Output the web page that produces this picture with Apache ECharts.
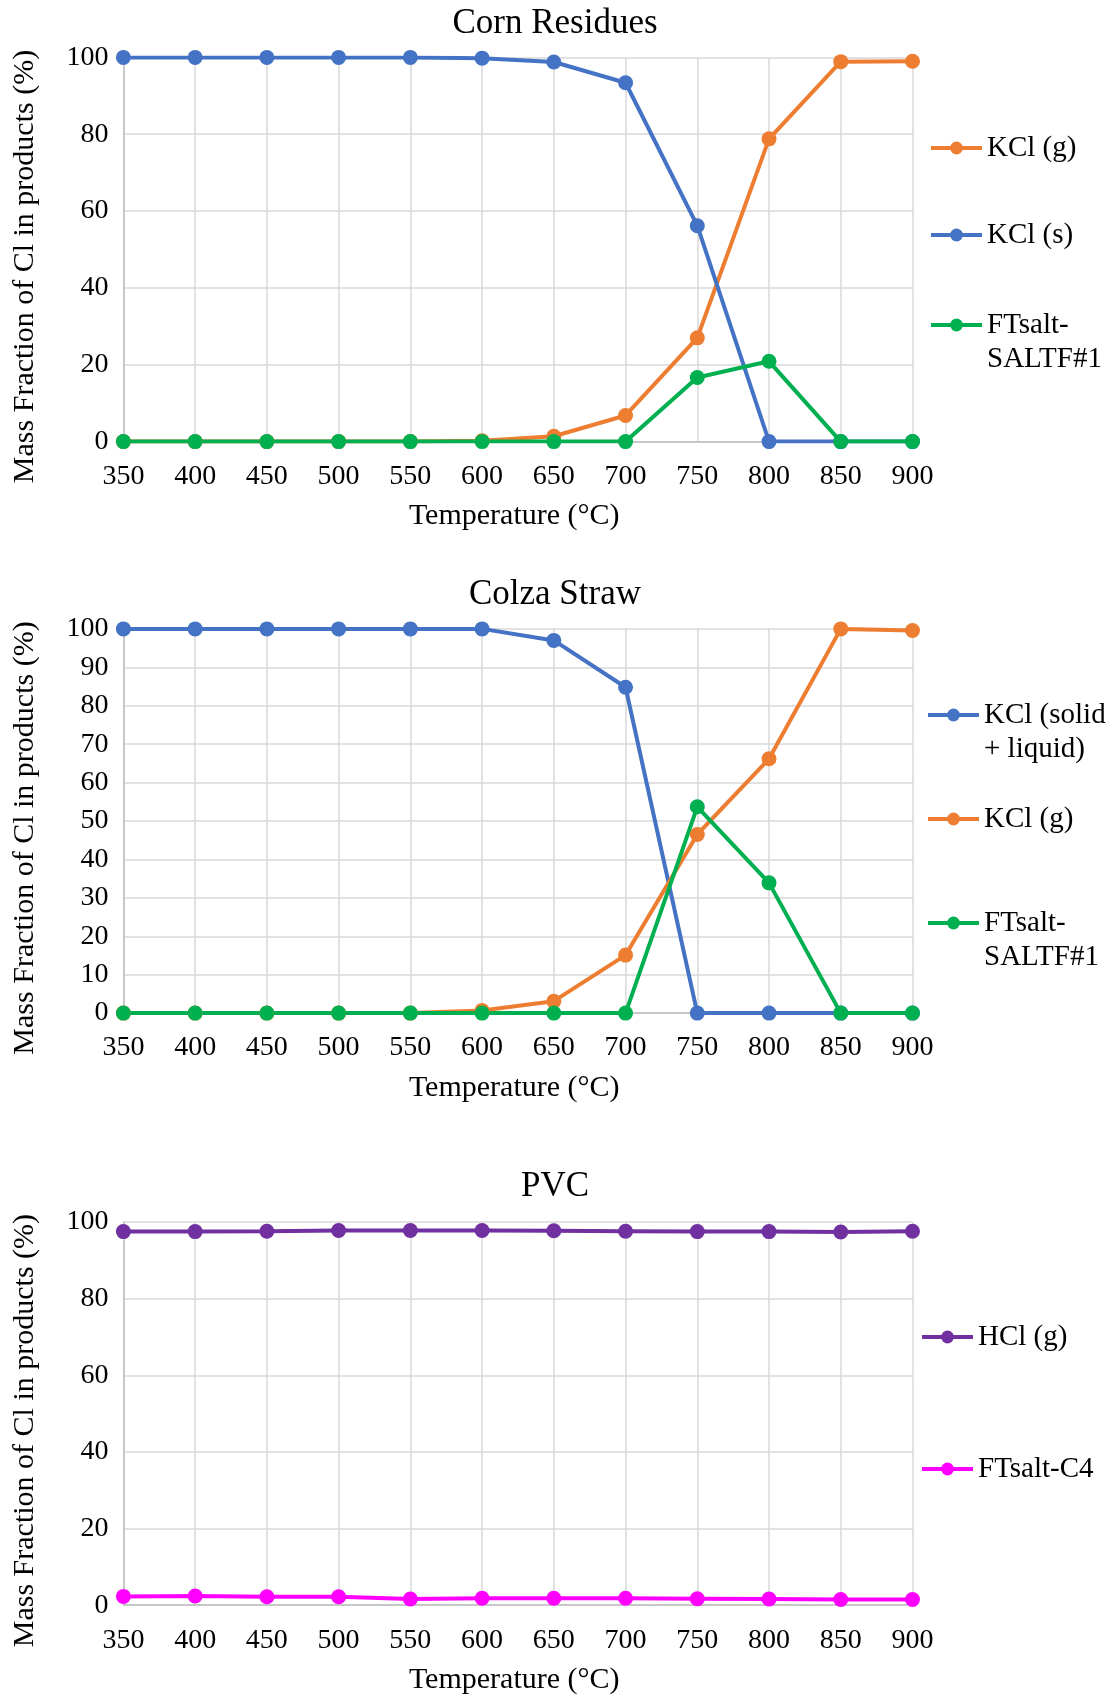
<!DOCTYPE html>
<html><head><meta charset="utf-8">
<script src="https://cdn.jsdelivr.net/npm/echarts@6/dist/echarts.min.js"></script>
<style>html,body{margin:0;padding:0;background:#fff}#c{width:1117px;height:1697px}</style>
</head><body><div id="c"></div>
<script>
// ---- data ----
const temperatures = [350, 400, 450, 500, 550, 600, 650, 700, 750, 800, 850, 900];

const cornTitle = 'Corn Residues';
const cornKClG = [0, 0, 0, 0, 0, 0.2, 1.4, 6.8, 27.0, 78.8, 98.9, 99.0];
const cornKClS = [100, 100, 100, 100, 100, 99.8, 98.8, 93.4, 56.2, 0, 0, 0];
const cornFTsalt = [0, 0, 0, 0, 0, 0, 0, 0, 16.7, 20.9, 0, 0];

const colzaTitle = 'Colza Straw';
const colzaKClSL = [100, 100, 100, 100, 100, 100, 97.0, 84.8, 0, 0, 0, 0];
const colzaKClG = [0, 0, 0, 0, 0, 0.7, 3.1, 15.1, 46.5, 66.2, 100, 99.6];
const colzaFTsalt = [0, 0, 0, 0, 0, 0, 0, 0, 53.7, 33.9, 0, 0];

const pvcTitle = 'PVC';
const pvcHCl = [97.5, 97.5, 97.6, 97.8, 97.8, 97.8, 97.7, 97.6, 97.5, 97.5, 97.4, 97.6];
const pvcFTsaltC4 = [2.3, 2.4, 2.2, 2.2, 1.6, 1.8, 1.8, 1.8, 1.7, 1.6, 1.5, 1.5];

const xName = 'Temperature (°C)';
const yName = 'Mass Fraction of Cl in products (%)';

// ---- styling / layout ----
const FONT = "'Liberation Serif', 'Times New Roman', serif";
const C_ORANGE = '#ED7D31', C_BLUE = '#4472C4', C_GREEN = '#00B050', C_PURPLE = '#7030A0', C_MAGENTA = '#FF00FF';

const panels = [
  { title: cornTitle, top: 57.4, height: 384.2, titleTop: 1, yInterval: 20,
    series: [
      { name: 'KCl (g)', data: cornKClG, color: C_ORANGE },
      { name: 'KCl (s)', data: cornKClS, color: C_BLUE },
      { name: 'FTsalt-\nSALTF#1', data: cornFTsalt, color: C_GREEN }
    ],
    legends: [
      { name: 'KCl (g)', cy: 148, lines: 1 },
      { name: 'KCl (s)', cy: 235, lines: 1 },
      { name: 'FTsalt-\nSALTF#1', cy: 325, lines: 2 }
    ], legendLeft: 929 },
  { title: colzaTitle, top: 628.9, height: 384.2, titleTop: 572, yInterval: 10,
    series: [
      { name: 'KCl (solid\n+ liquid)', data: colzaKClSL, color: C_BLUE },
      { name: 'KCl (g) ', data: colzaKClG, color: C_ORANGE },
      { name: 'FTsalt-\nSALTF#1 ', data: colzaFTsalt, color: C_GREEN }
    ],
    legends: [
      { name: 'KCl (solid\n+ liquid)', cy: 715, lines: 2 },
      { name: 'KCl (g) ', cy: 819, lines: 1 },
      { name: 'FTsalt-\nSALTF#1 ', cy: 923, lines: 2 }
    ], legendLeft: 926 },
  { title: pvcTitle, top: 1222, height: 383.2, titleTop: 1164, yInterval: 20,
    series: [
      { name: 'HCl (g)', data: pvcHCl, color: C_PURPLE },
      { name: 'FTsalt-C4', data: pvcFTsaltC4, color: C_MAGENTA }
    ],
    legends: [
      { name: 'HCl (g)', cy: 1337, lines: 1 },
      { name: 'FTsalt-C4', cy: 1469, lines: 1 }
    ], legendLeft: 920 }
];

const LH = 34;
const option = {
  animation: false,
  backgroundColor: '#fff',
  textStyle: { fontFamily: FONT, color: '#000' },
  title: [], grid: [], xAxis: [], yAxis: [], series: [], legend: [], graphic: []
};

panels.forEach((p, gi) => {
  option.title.push({ text: p.title, left: 550, textAlign: 'center', top: p.titleTop,
    textStyle: { fontFamily: FONT, fontSize: 35, fontWeight: 'normal', color: '#000' } });
  option.grid.push({ left: 123.4, width: 789.1, top: p.top, height: p.height });
  option.xAxis.push({
    gridIndex: gi, type: 'value', min: 350, max: 900, interval: 50,
    name: xName + '\u00a0', nameLocation: 'middle', nameGap: 60,
    nameTextStyle: { fontFamily: FONT, fontSize: 30, color: '#000' },
    axisLine: { show: true, lineStyle: { color: '#bfbfbf', width: 1.5 } },
    axisTick: { show: false },
    axisLabel: { fontFamily: FONT, fontSize: 28, color: '#000', margin: 21, showMinLabel: true, showMaxLabel: true },
    splitLine: { show: true, lineStyle: { color: '#d9d9d9', width: 1.5 } }
  });
  option.yAxis.push({
    gridIndex: gi, type: 'value', min: 0, max: 100, interval: p.yInterval,
    axisLine: { show: true, lineStyle: { color: '#bfbfbf', width: 1.5 } },
    axisTick: { show: false },
    axisLabel: { fontFamily: FONT, fontSize: 28, color: '#000', margin: 15 },
    splitLine: { show: true, lineStyle: { color: '#d9d9d9', width: 1.5 } }
  });
  option.graphic.push({
    type: 'text', rotation: Math.PI / 2, x: 25, y: p.top + p.height / 2 + 17,
    style: { text: yName, font: "30px 'Liberation Serif', 'Times New Roman', serif",
      fill: '#000', align: 'center', verticalAlign: 'middle' }
  });
  p.series.forEach(s => {
    option.series.push({
      type: 'line', name: s.name, xAxisIndex: gi, yAxisIndex: gi,
      data: temperatures.map((t, i) => [t, s.data[i]]),
      symbol: 'circle', symbolSize: 15, showSymbol: true,
      lineStyle: { color: s.color, width: 4 },
      itemStyle: { color: s.color },
      emphasis: { disabled: true }
    });
  });
  p.legends.forEach(l => {
    const two = l.lines === 2;
    option.legend.push({
      data: [{ name: l.name, lineStyle: { width: 4 } }],
      left: p.legendLeft, top: two ? l.cy - LH * 1.5 : l.cy - LH / 2,
      padding: 0, itemWidth: 51, itemHeight: 16, selectedMode: false,
      lineStyle: { width: 4 },
      formatter: n => two ? ' \n' + n.trim() : n.trim(),
      textStyle: { fontFamily: FONT, fontSize: 29, color: '#000', lineHeight: LH }
    });
  });
});

const chart = echarts.init(document.getElementById('c'), null, { renderer: 'canvas' });
chart.setOption(option);
</script>
</body></html>
